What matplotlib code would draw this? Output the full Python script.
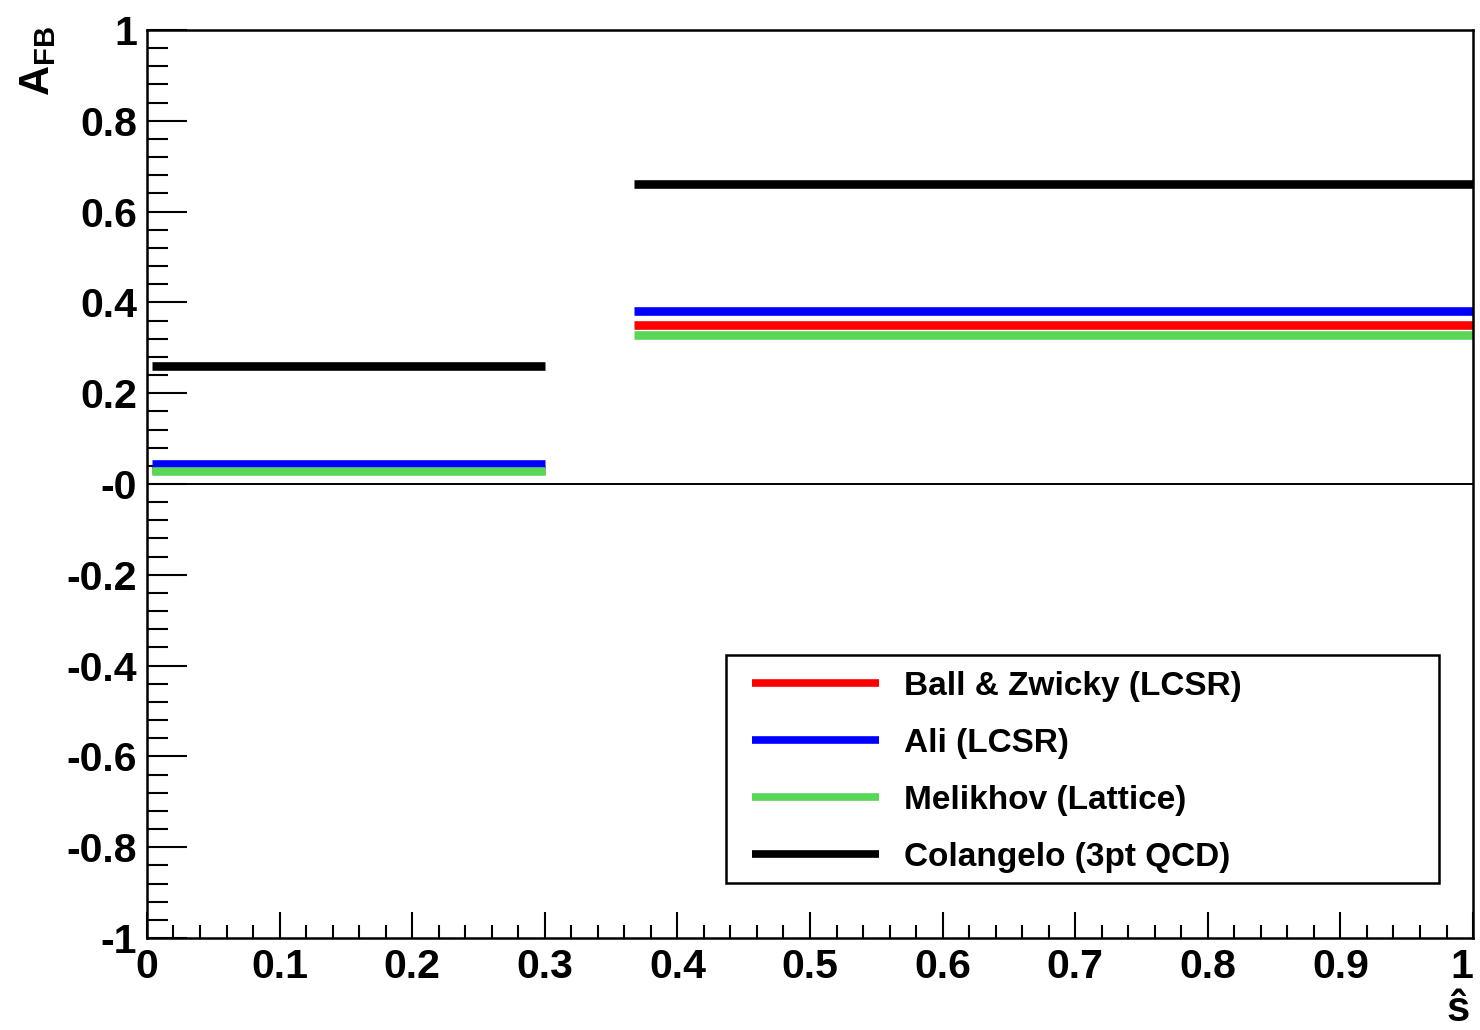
import matplotlib
matplotlib.use('Agg')
import matplotlib.pyplot as plt
from matplotlib.patches import Rectangle
from matplotlib.ticker import FixedLocator, MultipleLocator, FixedFormatter

plt.rcParams['font.family'] = ['Liberation Sans', 'DejaVu Sans']
plt.rcParams['font.weight'] = 'bold'
plt.rcParams['mathtext.fontset'] = 'custom'
plt.rcParams['mathtext.rm'] = 'Liberation Sans:bold'
plt.rcParams['mathtext.bf'] = 'Liberation Sans:bold'

# s-hat bins (two ranges) and forward-backward asymmetry per model
bin_lo = [0.004, 0.367]
bin_hi = [0.300, 1.000]
models = ['Ball & Zwicky (LCSR)', 'Ali (LCSR)', 'Melikhov (Lattice)', 'Colangelo (3pt QCD)']
ball_zwicky = [0.030, 0.350]
ali = [0.044, 0.380]
melikhov = [0.029, 0.329]
colangelo = [0.260, 0.660]
colors = ['#ff0000', '#0000ff', '#58d658', '#000000']

x_ticks = [0, 0.1, 0.2, 0.3, 0.4, 0.5, 0.6, 0.7, 0.8, 0.9, 1]
x_labels = ['0', '0.1', '0.2', '0.3', '0.4', '0.5', '0.6', '0.7', '0.8', '0.9', '1']
y_ticks = [-1, -0.8, -0.6, -0.4, -0.2, 0, 0.2, 0.4, 0.6, 0.8, 1]
y_labels = ['-1', '-0.8', '-0.6', '-0.4', '-0.2', '-0', '0.2', '0.4', '0.6', '0.8', '1']

fig = plt.figure(figsize=(14.8, 10.3), dpi=100)
ax = fig.add_axes([0.0993, 0.0893, 0.896, 0.8816])

ax.axhline(0, color='black', lw=1.4, zorder=1)

for vals, name, col in zip([ball_zwicky, ali, melikhov, colangelo], models, colors):
    for i in range(len(bin_lo)):
        ax.plot([bin_lo[i], bin_hi[i]], [vals[i], vals[i]], color=col, lw=6.2,
                solid_capstyle='butt', label=name if i == 0 else None, zorder=2)

ax.set_xlim(0, 1)
ax.set_ylim(-1, 1)

ax.xaxis.set_major_locator(FixedLocator(x_ticks))
ax.xaxis.set_major_formatter(FixedFormatter(x_labels))
ax.xaxis.set_minor_locator(MultipleLocator(0.02))
ax.yaxis.set_major_locator(FixedLocator(y_ticks))
ax.yaxis.set_major_formatter(FixedFormatter(y_labels))
ax.yaxis.set_minor_locator(MultipleLocator(0.04))

ax.tick_params(axis='both', which='both', direction='in', top=False, right=False,
               width=1.5, labelsize=29.5)
ax.tick_params(axis='x', which='major', length=19, pad=7)
ax.tick_params(axis='x', which='minor', length=9.5)
ax.tick_params(axis='y', which='major', length=29, pad=7)
ax.tick_params(axis='y', which='minor', length=15)
for s in ax.spines.values():
    s.set_linewidth(1.8)

# keep the last x label inside the canvas, as in the original
fig.canvas.draw()
ax.get_xticklabels()[-1].set_horizontalalignment('right')
ax.get_xticklabels()[-1].set_x(1.004)

fig.text(0.026, 0.975, r'$\mathrm{A_{FB}}$', rotation=90, ha='center', va='top', fontsize=30)
fig.text(0.985, 0.0, '\u015d', ha='center', va='bottom', fontsize=30, fontweight='bold')

# legend box drawn separately so the inner margins can follow the original
ax.add_patch(Rectangle((0.4367, 0.0606), 0.538, 0.251, transform=ax.transAxes,
                       facecolor='white', edgecolor='black', lw=1.8, zorder=5))
leg = ax.legend(loc='upper left', bbox_to_anchor=(0.4563, 0.2945),
                fontsize=24, frameon=False, handlelength=3.8, handletextpad=0.75,
                labelspacing=0.78, borderpad=0, borderaxespad=0)
leg.set_zorder(6)
for h in leg.get_lines():
    h.set_linewidth(5.5)

fig.savefig('out.png', dpi=100)
